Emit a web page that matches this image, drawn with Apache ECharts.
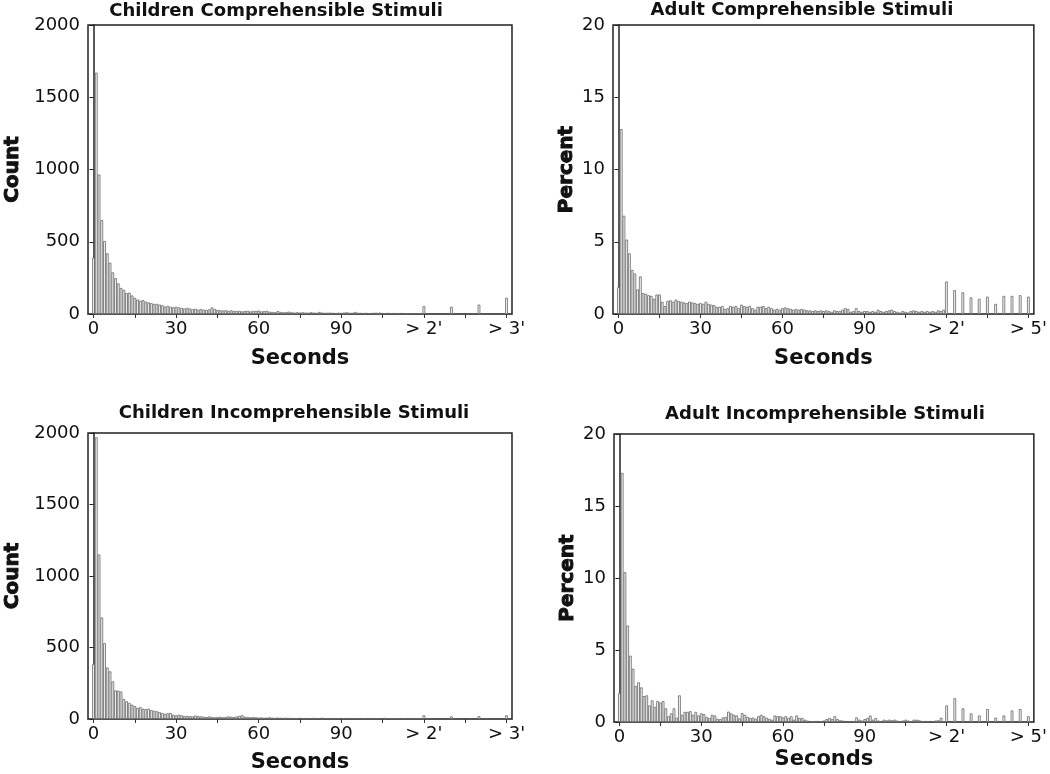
<!DOCTYPE html>
<html>
<head>
<meta charset="utf-8">
<title>Response time histograms</title>
<script src="https://cdn.jsdelivr.net/npm/echarts@6/dist/echarts.min.js"></script>
<style>
  html, body { margin: 0; padding: 0; background: #fff; }
  #chart { width: 1050px; height: 774px; }
</style>
</head>
<body>
<!-- one canvas, four grids -->
<div id="chart"></div>
<script>
// --- data: one bar per second (0..119 s), then the "> 2'" tail bins ---
const childCompBins = [
  390, 1670, 965, 650, 505, 420, 355, 288, 248, 212,
  180, 168, 145, 148, 128, 112, 100, 92, 96, 86,
  80, 75, 70, 70, 65, 60, 52, 56, 50, 46,
  50, 46, 42, 38, 42, 38, 33, 36, 30, 34,
  30, 28, 32, 45, 35, 28, 26, 24, 26, 22,
  25, 22, 20, 22, 18, 20, 22, 18, 22, 20,
  24, 18, 20, 22, 16, 14, 12, 20, 14, 12,
  14, 16, 12, 10, 12, 10, 12, 10, 9, 12,
  10, 8, 14, 10, 8, 9, 10, 8, 7, 9,
  8, 10, 12, 9, 8, 14, 9, 8, 7, 8,
  6, 7, 9, 8, 10, 7, 6, 8, 6, 7,
  5, 6, 7, 5, 6, 4, 5, 6, 5, 4
];
const childCompTail = [55, 50, 65, 112];

const adultCompBins = [
  1.85, 12.8, 6.8, 5.15, 4.2, 3.05, 2.8, 1.7, 2.6, 1.45,
  1.4, 1.3, 1.25, 1.05, 1.35, 1.35, 0.85, 0.55, 0.9, 0.95,
  0.85, 1.0, 0.9, 0.85, 0.8, 0.75, 0.85, 0.8, 0.75, 0.7,
  0.75, 0.7, 0.85, 0.7, 0.65, 0.6, 0.5, 0.5, 0.55, 0.35,
  0.4, 0.55, 0.5, 0.55, 0.4, 0.65, 0.55, 0.5, 0.55, 0.4,
  0.3, 0.5, 0.5, 0.55, 0.4, 0.5, 0.4, 0.3, 0.35, 0.3,
  0.4, 0.45, 0.4, 0.35, 0.3, 0.35, 0.3, 0.35, 0.3, 0.25,
  0.25, 0.2, 0.25, 0.2, 0.25, 0.2, 0.25, 0.2, 0.15, 0.25,
  0.2, 0.2, 0.3, 0.4, 0.35, 0.15, 0.2, 0.4, 0.2, 0.15,
  0.2, 0.2, 0.15, 0.2, 0.15, 0.3, 0.2, 0.15, 0.2, 0.25,
  0.3, 0.2, 0.15, 0.1, 0.2, 0.15, 0.1, 0.2, 0.25, 0.2,
  0.15, 0.2, 0.15, 0.2, 0.15, 0.2, 0.15, 0.25, 0.2, 0.3
];
const adultCompTail = [2.25, 1.65, 1.5, 1.15, 1.05, 1.2, 0.7, 1.25, 1.25, 1.3, 1.2];

const childIncBins = [
  385, 1970, 1150, 710, 530, 360, 333, 263, 200, 198,
  192, 140, 124, 112, 100, 90, 78, 82, 72, 70,
  72, 62, 58, 54, 48, 42, 36, 40, 42, 30,
  26, 30, 26, 20, 22, 20, 18, 24, 20, 19,
  16, 14, 18, 14, 12, 14, 16, 12, 14, 18,
  16, 14, 18, 22, 26, 16, 14, 12, 14, 12,
  10, 11, 9, 10, 12, 9, 8, 10, 9, 8,
  9, 7, 8, 6, 7, 8, 6, 7, 5, 6,
  8, 7, 6, 9, 6, 5, 7, 6, 5, 6,
  7, 5, 6, 8, 5, 6, 5, 7, 5, 4,
  6, 5, 7, 6, 4, 5, 8, 6, 5, 4,
  5, 6, 4, 5, 7, 4, 5, 4, 6, 5
];
const childIncTail = [26, 18, 20, 26];

const adultIncBins = [
  2.0, 17.3, 10.4, 6.7, 4.6, 3.7, 2.5, 2.75, 2.4, 1.8,
  1.85, 1.15, 1.5, 1.05, 1.45, 1.35, 1.45, 0.95, 0.4, 0.6,
  0.95, 0.3, 1.85, 0.5, 0.7, 0.7, 0.75, 0.5, 0.7, 0.45,
  0.6, 0.55, 0.35, 0.28, 0.5, 0.45, 0.22, 0.2, 0.32, 0.35,
  0.72, 0.6, 0.5, 0.45, 0.25, 0.62, 0.5, 0.35, 0.28, 0.3,
  0.22, 0.4, 0.5, 0.4, 0.3, 0.22, 0.16, 0.45, 0.4, 0.4,
  0.32, 0.4, 0.28, 0.4, 0.16, 0.45, 0.28, 0.28, 0.16, 0.1,
  0.05, 0, 0.07, 0.07, 0.03, 0.1, 0.2, 0.28, 0.2, 0.4,
  0.2, 0.12, 0.1, 0.05, 0.05, 0.07, 0.07, 0.32, 0.16, 0.1,
  0.2, 0.28, 0.45, 0.16, 0.28, 0.1, 0.05, 0.16, 0.12, 0.16,
  0.12, 0.16, 0.1, 0.05, 0.1, 0.16, 0.1, 0.05, 0.16, 0.16,
  0.12, 0.07, 0.07, 0.05, 0.07, 0.05, 0.1, 0.12, 0.3, 0.05
];
const adultIncTail = [1.15, 1.65, 0.95, 0.6, 0.45, 0.9, 0.3, 0.45, 0.8, 0.9, 0.4];

// where the tail bars sit on the seconds axis
const childTailAt = [120, 130, 140, 150];
const adultTailAt = [120, 123, 126, 129, 132, 135, 138, 141, 144, 147, 150];

// x ticks / labels
const xLabelAt = [0, 30, 60, 90, 120, 150];
const childXLabels = ['0', '30', '60', '90', "> 2'", "> 3'"];
const adultXLabels = ['0', '30', '60', '90', "> 2'", "> 5'"];
const xTickAt = [0, 15, 30, 45, 60, 75, 90, 105, 120, 135, 150];

const FONT = '"DejaVu Sans", "Liberation Sans", sans-serif';

const panels = [
  { title: 'Children Comprehensible Stimuli', tx: 276, ty: 11,
    grid: { left: 88, top: 25, width: 424, height: 289 },
    yName: 'Count', yMax: 2000, yStep: 500, yGap: 65, xGap: 34,
    bins: childCompBins, tail: childCompTail, tailAt: childTailAt, labels: childXLabels },
  { title: 'Adult Comprehensible Stimuli', tx: 802, ty: 10,
    grid: { left: 613, top: 25, width: 424, height: 289 },
    yName: 'Percent', yMax: 20, yStep: 5, yGap: 36, xGap: 34,
    bins: adultCompBins, tail: adultCompTail, tailAt: adultTailAt, labels: adultXLabels },
  { title: 'Children Incomprehensible Stimuli', tx: 294, ty: 413,
    grid: { left: 88, top: 433, width: 424, height: 288 },
    yName: 'Count', yMax: 2000, yStep: 500, yGap: 65, xGap: 33,
    bins: childIncBins, tail: childIncTail, tailAt: childTailAt, labels: childXLabels },
  { title: 'Adult Incomprehensible Stimuli', tx: 825, ty: 414,
    grid: { left: 614, top: 434, width: 424, height: 288 },
    yName: 'Percent', yMax: 20, yStep: 5, yGap: 36, xGap: 27,
    bins: adultIncBins, tail: adultIncTail, tailAt: adultTailAt, labels: adultXLabels }
];

const myChart = echarts.init(document.getElementById('chart'), null, { renderer: 'canvas' });

const option = {
  animation: false,
  backgroundColor: '#fff',
  // panel titles
  graphic: panels.map(p => ({
    type: 'text', x: p.tx, y: p.ty, silent: true,
    style: {
      text: p.title, textAlign: 'center', textVerticalAlign: 'middle',
      font: 'bold 18px ' + FONT, fill: '#111'
    }
  })),
  grid: panels.map(p => Object.assign({
    show: true, borderColor: '#222', borderWidth: 1.5, backgroundColor: 'transparent'
  }, p.grid)),
  xAxis: panels.map((p, i) => ({
    gridIndex: i,
    type: 'value',
    min: -2,
    max: 152,
    name: 'Seconds',
    nameLocation: 'middle',
    nameGap: p.xGap,
    nameTextStyle: { fontFamily: FONT, fontWeight: 'bold', fontSize: 21, color: '#111' },
    axisLine: { show: true, onZero: false, lineStyle: { color: '#555', width: 1 } },
    axisTick: { show: true, customValues: xTickAt, length: 4, lineStyle: { color: '#333' } },
    axisLabel: {
      customValues: xLabelAt,
      formatter: v => p.labels[xLabelAt.indexOf(v)],
      fontFamily: FONT, fontSize: 18, color: '#111', margin: 6
    },
    splitLine: { show: false }
  })),
  yAxis: panels.map((p, i) => ({
    gridIndex: i,
    type: 'value',
    min: 0,
    max: p.yMax,
    interval: p.yStep,
    name: p.yName,
    nameLocation: 'middle',
    nameRotate: 90,
    nameGap: p.yGap,
    // heavier than plain bold, like the original
    nameTextStyle: {
      fontFamily: FONT, fontWeight: 'bold', fontSize: 20, color: '#111',
      textBorderColor: '#111', textBorderWidth: 1
    },
    axisLine: { show: true, lineStyle: { color: '#222', width: 1.5 } },
    axisTick: { show: true, length: 4, lineStyle: { color: '#222' } },
    axisLabel: {
      formatter: v => String(v),
      fontFamily: FONT, fontSize: 18, color: '#111', margin: 8
    },
    splitLine: { show: false }
  })),
  series: panels.map((p, i) => ({
    type: 'bar',
    xAxisIndex: i,
    yAxisIndex: i,
    barWidth: 2.75,
    silent: true,
    itemStyle: { color: '#f2f2f2', borderColor: '#6a6a6a', borderWidth: 0.8 },
    data: p.bins.map((v, k) => [k, v]).concat(p.tail.map((v, k) => [p.tailAt[k], v]))
  }))
};

myChart.setOption(option);
</script>
</body>
</html>
